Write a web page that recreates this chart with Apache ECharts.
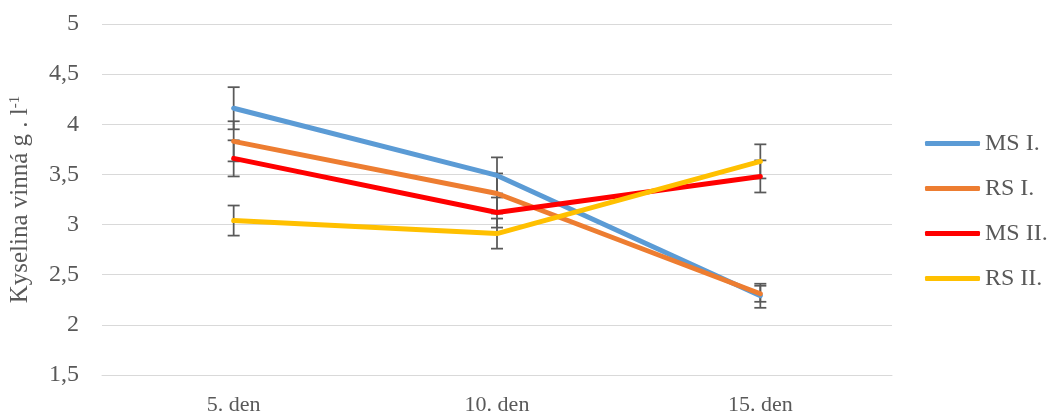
<!DOCTYPE html>
<html><head><meta charset="utf-8">
<script src="https://cdn.jsdelivr.net/npm/echarts@6/dist/echarts.min.js"></script>
<style>html,body{margin:0;padding:0;background:#fff}#c{width:1053px;height:416px}</style>
</head><body><div id="c"></div>
<script>
const categories = ['5. den', '10. den', '15. den'];
const seriesNames = ['MS I.', 'RS I.', 'MS II.', 'RS II.'];
const msI = [4.16, 3.49, 2.29];
const rsI = [3.83, 3.31, 2.31];
const msII = [3.66, 3.12, 3.48];
const rsII = [3.04, 2.91, 3.63];
const errMsI = [0.21, 0.18, 0.12];
const errRsI = [0.20, 0.20, 0.08];
const errMsII = [0.18, 0.15, 0.16];
const errRsII = [0.15, 0.15, 0.17];
const yTicks = [1.5, 2, 2.5, 3, 3.5, 4, 4.5, 5];
const colors = ['#5B9BD5', '#ED7D31', '#FF0000', '#FFC000'];

const values = [msI, rsI, msII, rsII];
const errs = [errMsI, errRsI, errMsII, errRsII];
const font = '"Liberation Serif", "Times New Roman", serif';

const series = [];
values.forEach((v, i) => {
  series.push({
    name: seriesNames[i], type: 'line', data: v, symbol: 'none',
    lineStyle: { color: colors[i], width: 5, cap: 'round', join: 'round' },
    itemStyle: { color: colors[i] }, z: 3
  });
});
values.forEach((v, i) => {
  series.push({
    type: 'custom', z: 2, silent: true,
    data: v.map((y, j) => [j, y - errs[i][j], y + errs[i][j]]),
    renderItem: function (params, api) {
      const lo = api.coord([api.value(0), api.value(1)]);
      const hi = api.coord([api.value(0), api.value(2)]);
      const hw = 6;
      const st = { stroke: '#595959', lineWidth: 1.75 };
      return { type: 'group', children: [
        { type: 'line', shape: { x1: lo[0], y1: lo[1], x2: hi[0], y2: hi[1] }, style: st },
        { type: 'line', shape: { x1: lo[0] - hw, y1: lo[1], x2: lo[0] + hw, y2: lo[1] }, style: st },
        { type: 'line', shape: { x1: hi[0] - hw, y1: hi[1], x2: hi[0] + hw, y2: hi[1] }, style: st }
      ]};
    }
  });
});

const chart = echarts.init(document.getElementById('c'), null, { renderer: 'canvas' });
chart.setOption({
  animation: false,
  color: colors,
  grid: { left: 102, right: 161, top: 24, bottom: 41 },
  legend: {
    orient: 'vertical', left: 925, top: 131, padding: 0,
    data: seriesNames,
    icon: 'roundRect', itemWidth: 55, itemHeight: 5, itemGap: 20,
    textStyle: { fontFamily: font, fontSize: 24, color: '#595959', lineHeight: 25 }
  },
  xAxis: {
    type: 'category', data: categories, boundaryGap: true,
    axisLine: { show: true, lineStyle: { color: '#d9d9d9', width: 1 } },
    axisTick: { show: false },
    axisLabel: { fontFamily: font, fontSize: 22, color: '#595959', margin: 19 }
  },
  yAxis: {
    type: 'value', min: yTicks[0], max: yTicks[yTicks.length - 1], interval: 0.5,
    axisLine: { show: false }, axisTick: { show: false },
    splitLine: { lineStyle: { color: '#d9d9d9', width: 1 } },
    axisLabel: {
      fontFamily: font, fontSize: 24, color: '#595959', margin: 23,
      formatter: v => String(v).replace('.', ',')
    },
    name: '{a|Kyselina vinná g . l}{s|-1}',
    nameLocation: 'middle', nameRotate: 90, nameGap: 69,
    nameTextStyle: {
      rich: {
        a: { fontFamily: font, fontSize: 25, color: '#595959', verticalAlign: 'bottom' },
        s: { fontFamily: font, fontSize: 15, color: '#595959', verticalAlign: 'top', padding: [0, 0, 10, 0] }
      }
    }
  },
  series: series
});
</script></body></html>
